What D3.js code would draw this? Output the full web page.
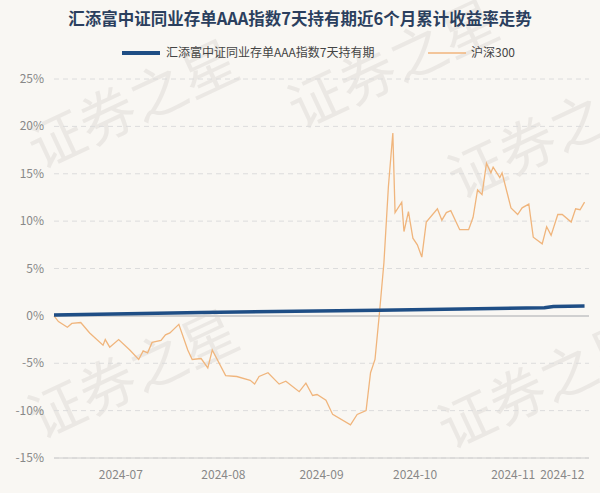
<!DOCTYPE html>
<html><head><meta charset="utf-8">
<script src="https://cdn.jsdelivr.net/npm/d3@7"></script>
<style>body{margin:0;background:#fff;}svg{display:block;font-family:"Noto Sans CJK SC","Noto Sans",sans-serif;}</style>
</head><body><svg id="c" width="600" height="493"></svg>
<script>
const title = "汇添富中证同业存单AAA指数7天持有期近6个月累计收益率走势";
const seriesNames = ["汇添富中证同业存单AAA指数7天持有期", "沪深300"];
const tickLabels = ["2024-07","2024-08","2024-09","2024-10","2024-11","2024-12"];
const tickDays = [15,38,60,81,103,114];
const yTicks = [-15,-10,-5,0,5,10,15,20,25];
// [trading day index, %]
const csiDays = [0,1,3,4,6,8,11,11.5,12.5,14.5,17,19,20,21,22,24,25,26,28,30,31,33,34.5,35.5,38.5,41,44,45,46,48,50.5,52,55,56.5,58,59,61,62.5,66.5,68,70,71,72,73,74,75,76,76.5,78,78.5,79.5,80.5,81.5,82.5,83.5,86,87,88,89,91,93,94,95,96,97,98,98.5,100,100.5,102.5,104,105,106.5,107.5,109.5,110.5,111.5,113,114,116,117,118,119];
const csiVals = [0,-0.6,-1.2,-0.8,-0.7,-1.8,-3.1,-2.5,-3.3,-2.5,-3.6,-4.6,-3.7,-3.9,-2.8,-2.6,-2.0,-1.8,-0.9,-3.6,-4.6,-4.5,-5.5,-3.6,-6.3,-6.4,-6.8,-7.2,-6.4,-6.0,-7.2,-6.9,-8.0,-7.1,-8.4,-8.3,-8.9,-10.4,-11.5,-10.4,-10.0,-6.0,-4.6,0.3,5.6,13.6,19.3,10.9,12.0,8.9,11.0,8.2,7.5,6.2,9.9,11.3,10.1,10.9,11.1,9.1,9.1,10.4,13.3,12.8,16.1,15.1,15.7,14.6,15.1,11.4,10.7,11.4,11.8,8.3,7.6,9.4,8.5,10.7,10.7,9.9,11.3,11.2,12.0];
const fundDays = [0,33,73,110,112,119];
const fundVals = [0.1,0.35,0.6,0.85,1.0,1.05];

const svg = d3.select("#c");
const L=54,R=589,T=79,B=458;
svg.append("rect").attr("width",600).attr("height",493).attr("fill","#f9f7f3");
const x = d3.scaleLinear().domain([0,120]).range([L,R]);
const y = d3.scaleLinear().domain([-15,25]).range([B,T]);

// watermark
[[40,170],[300,130],[40,440],[450,450],[460,200]].forEach(([wx,wy])=>{
  svg.append("text").attr("x",wx).attr("y",wy).attr("transform",`rotate(-25,${wx},${wy})`)
   .attr("font-size",56).attr("fill","#ebe8e4").text("证券之星");
});

svg.append("text").attr("x",300).attr("y",25).attr("text-anchor","middle").attr("font-size",16.5)
  .attr("font-weight","bold").attr("fill","#2b3f5e").text(title);

// legend
svg.append("line").attr("x1",122).attr("x2",160).attr("y1",53).attr("y2",53).attr("stroke","#1f4e85").attr("stroke-width",4);
svg.append("text").attr("x",166).attr("y",57).attr("font-size",12).attr("fill","#444").text(seriesNames[0]);
svg.append("line").attr("x1",428).attr("x2",466).attr("y1",53).attr("y2",53).attr("stroke","#f0b57c").attr("stroke-width",1.5);
svg.append("text").attr("x",471).attr("y",57).attr("font-size",12).attr("fill","#444").text(seriesNames[1]);

yTicks.forEach(t=>{
  svg.append("line").attr("x1",L).attr("x2",R).attr("y1",y(t)).attr("y2",y(t))
    .attr("stroke",t===0?"#d0d0d0":"#dcdcdc").attr("stroke-width",t===0?2:1).attr("stroke-dasharray",t===0?null:"5,4");
  svg.append("text").attr("x",44).attr("y",y(t)+4).attr("text-anchor","end").attr("font-size",12).attr("fill","#888").text(t+"%");
});
svg.append("line").attr("x1",L).attr("x2",R).attr("y1",B).attr("y2",B).attr("stroke","#ccc");
tickDays.forEach((d,i)=>{
  svg.append("text").attr("x",x(d)).attr("y",479).attr("text-anchor","middle").attr("font-size",12).attr("fill","#888").text(tickLabels[i]);
});

const line = d3.line().x(d=>x(d[0])).y(d=>y(d[1]));
svg.append("path").datum(csiDays.map((d,i)=>[d,csiVals[i]])).attr("d",line)
  .attr("fill","none").attr("stroke","#f0b57c").attr("stroke-width",1.3);
svg.append("path").datum(fundDays.map((d,i)=>[d,fundVals[i]])).attr("d",line)
  .attr("fill","none").attr("stroke","#1f4e85").attr("stroke-width",3.5);
</script></body></html>
